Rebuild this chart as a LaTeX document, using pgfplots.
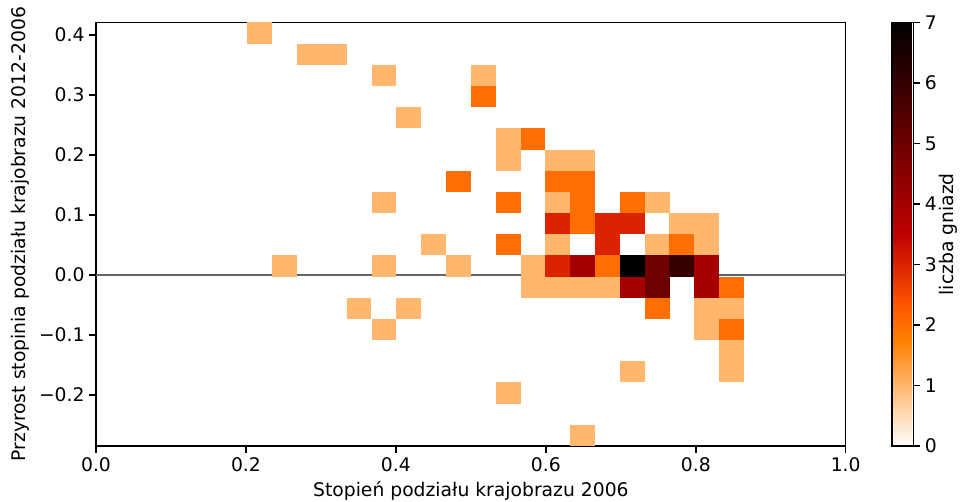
\documentclass[border=0pt]{standalone}
\usepackage{pgfplots}
\pgfplotsset{compat=1.18}
\usepackage{fontspec}
\setmainfont{DejaVu Sans}
\setsansfont{DejaVu Sans}
\pgfdeclareplotmark{cell}{\pgfpathrectanglecorners{\pgfpoint{-8.939pt}{-7.6225pt}}{\pgfpoint{8.939pt}{7.6225pt}}\pgfusepathqfill}
\pgfplotsset{colormap={gistheatr}{rgb255(0cm)=(255,255,255) rgb255(3cm)=(255,128,0) rgb255(4cm)=(255,85,0) rgb255(6cm)=(191,0,0) rgb255(12cm)=(0,0,0)}}
\pgfplotsset{every axis/.append style={font=\fontsize{13.5}{16.2}\selectfont}}
\pgfplotstableread{
x y c
0.2185 0.4032 1
0.2847 0.3679 1
0.3178 0.3679 1
0.3841 0.3326 1
0.5165 0.3326 1
0.5165 0.2973 2
0.4172 0.2620 1
0.5497 0.2267 1
0.5828 0.2267 2
0.5497 0.1914 1
0.6159 0.1914 1
0.6490 0.1914 1
0.4834 0.1561 2
0.6159 0.1561 2
0.6490 0.1561 2
0.3841 0.1208 1
0.5497 0.1208 2
0.6159 0.1208 1
0.6490 0.1208 2
0.7153 0.1208 2
0.7484 0.1208 1
0.6159 0.0856 3
0.6490 0.0856 2
0.6821 0.0856 3
0.7153 0.0856 3
0.7815 0.0856 1
0.8146 0.0856 1
0.4503 0.0503 1
0.5497 0.0503 2
0.6159 0.0503 1
0.6821 0.0503 3
0.7484 0.0503 1
0.7815 0.0503 2
0.8146 0.0503 1
0.2516 0.0150 1
0.3841 0.0150 1
0.4834 0.0150 1
0.5828 0.0150 1
0.6159 0.0150 3
0.6490 0.0150 4
0.6821 0.0150 2
0.7153 0.0150 7
0.7484 0.0150 5
0.7815 0.0150 6
0.8146 0.0150 4
0.5828 -0.0203 1
0.6159 -0.0203 1
0.6490 -0.0203 1
0.6821 -0.0203 1
0.7153 -0.0203 4
0.7484 -0.0203 5
0.8146 -0.0203 4
0.8477 -0.0203 2
0.3509 -0.0556 1
0.4172 -0.0556 1
0.7484 -0.0556 2
0.8146 -0.0556 1
0.8477 -0.0556 1
0.3841 -0.0909 1
0.8146 -0.0909 1
0.8477 -0.0909 2
0.8477 -0.1262 1
0.7153 -0.1615 1
0.8477 -0.1615 1
0.5497 -0.1968 1
0.6490 -0.2674 1
}\cells
\begin{document}
\begin{tikzpicture}
\useasboundingbox (-69.12pt,-40.32pt) rectangle (622.08pt,321.12pt);
\begin{axis}[
  at={(0pt,0pt)}, anchor=south west,
  scale only axis, width=539.8pt, height=304.92pt,
  xmin=0, xmax=1, ymin=-0.2850, ymax=0.4208,
  xtick={0,0.2,0.4,0.6,0.8,1},
  xticklabels={0.0,0.2,0.4,0.6,0.8,1.0},
  ytick={-0.2,-0.1,0,0.1,0.2,0.3,0.4},
  yticklabels={−0.2,−0.1,0.0,0.1,0.2,0.3,0.4},
  tick pos=left, tick align=outside, major tick length=4.7pt,
  every tick/.style={black, line width=1.05pt},
  axis line style={line width=1.05pt},
  xlabel={Stopień podziału krajobrazu 2006},
  ylabel={Przyrost stopinia podziału krajobrazu 2012-2006},
  colormap name=gistheatr,
  point meta min=0, point meta max=7,
  colorbar,
  colorbar style={
    at={(parent axis.north east)}, anchor=north west, xshift=24.8pt,
    scale only axis, width=15.5pt, height=304.92pt,
    ytick={0,1,2,3,4,5,6,7},
    yticklabels={0,1,2,3,4,5,6,7},
    ytick pos=right, yticklabel pos=right,
    tick align=outside, major tick length=4.7pt,
    every tick/.style={black, line width=1.05pt},
    axis line style={line width=1.05pt},
    extra description/.code={
      \node[rotate=90, anchor=north, inner sep=0pt] at ([xshift=18pt]rel axis cs:1,0.5) {liczba gniazd};
    },
  },
]
\addplot[scatter, only marks, mark=cell, point meta=explicit,
  scatter/use mapped color={draw=mapped color, fill=mapped color}]
  table[x=x, y=y, meta=c] {\cells};
\addplot[color={rgb,255:red,100;green,100;blue,100}, line width=1pt] coordinates {(0,0) (1,0)};
\end{axis}
\end{tikzpicture}
\end{document}
